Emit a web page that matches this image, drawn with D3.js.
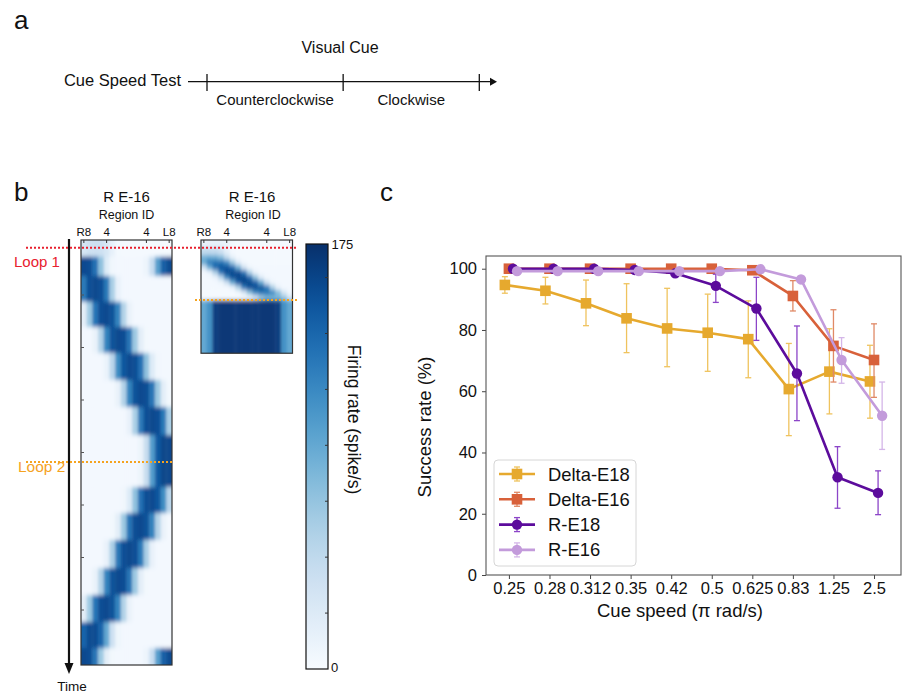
<!DOCTYPE html>
<html>
<head>
<meta charset="utf-8">
<script src="https://cdn.jsdelivr.net/npm/d3@7"></script>
<style>
body { margin: 0; background: #fff; }
svg { font-family: "Liberation Sans", Arial, Helvetica, sans-serif; }
</style>
</head>
<body>
<svg id="fig" width="920" height="693"></svg>
<script>
// ---------- panel a ----------
var cueSegments = ["Counterclockwise", "Clockwise"];

// ---------- panel b ----------
var regionIds = ["R8","R7","R6","R5","R4","R3","R2","R1","L1","L2","L3","L4","L5","L6","L7","L8"];
var regionTickIds = ["R8","R4","L4","L8"];
var regionTickText = ["R8","4","4","L8"];

// firing rate vs distance (regions) from the bump centre
var bumpProfile = [176, 172, 140, 65, 15, 4];
var baseRate = 3;

// left map: bump centre (region index) for each step, time in map rows
var leftStepStart = [0, 6.7, 14.4, 24.7, 34.8, 45.2, 56, 66.8, 78, 98.8, 109.2, 120, 131.2, 142, 152.8, 163.2];
var leftStepCentre = [[2], [0.2, 15.4], [2], [3.9], [6.1], [8.2], [10.1], [12], [14.4], [11.8], [9.9], [8], [6.1], [3.9], [1.5], [0.1, 15.4]];
var leftStepPeak = [40, 172, 172, 172, 172, 172, 172, 172, 176, 172, 172, 172, 172, 172, 172, 172];
var leftEnd = 170;
var leftTimeTicks = [22, 43, 64, 85, 106, 127, 148];
var loopTimes = [3.1, 88.8];
var loopNames = ["Loop 1", "Loop 2"];

// right map: fast sweep, then every region saturates
var rightStepStart = [0, 3, 6, 8, 10, 12, 14, 16, 18, 20, 22];
var rightStepCentre = [2, 1, 1.3, 2.3, 3.5, 5, 6.2, 7.5, 9, 10.5, 12];
var rightStepPeak = [15, 50, 100, 145, 165, 172, 174, 174, 168, 140, 90];
var rightSwitch = 24;
var rightEnd = 45.3;
var rightHoldRate = [100, 118, 180, 184, 184, 184, 184, 184, 184, 184, 184, 184, 184, 180, 118, 100];

var rateMax = 190;
var rateTicks = [25, 50, 75, 100, 125, 150, 175];

// ---------- panel c ----------
var speeds = ["0.25","0.28","0.312","0.35","0.42","0.5","0.625","0.83","1.25","2.5"];
var seriesNames = ["Delta-E18", "Delta-E16", "R-E18", "R-E16"];

var deltaE18   = [94.7, 92.8, 88.7, 83.8, 80.5, 79.1, 77.0, 60.7, 66.4, 63.2];
var deltaE18Lo = [92.0, 88.5, 81.4, 72.6, 68.0, 66.5, 64.4, 45.5, 52.6, 51.2];
var deltaE18Hi = [97.4, 97.2, 96.3, 95.1, 93.6, 91.7, 89.5, 75.6, 80.4, 75.0];

var deltaE16   = [100, 100, 100, 100, 100, 100, 99.5, 91.1, 74.8, 70.2];
var deltaE16Lo = [99.6, 99.6, 99.6, 99.6, 99.6, 99.6, 98.6, 86.2, 63.0, 58.0];
var deltaE16Hi = [100.4, 100.4, 100.4, 100.4, 100.4, 100.4, 100.3, 96.1, 86.6, 82.0];

var rE18   = [100, 100, 100, 99.6, 98.5, 94.4, 87.0, 65.8, 31.9, 26.8];
var rE18Lo = [100, 100, 100, 99.2, 97.5, 89.0, 76.6, 50.4, 21.8, 19.7];
var rE18Hi = [100, 100, 100, 100, 99.5, 98.2, 97.2, 81.3, 41.9, 34.0];

var rE16   = [99.2, 99.2, 99.2, 99.2, 99.2, 99.2, 99.8, 96.5, 70.2, 52.0];
var rE16Lo = [98.8, 98.8, 98.8, 98.8, 98.8, 98.8, 99.5, 95.5, 62.6, 41.0];
var rE16Hi = [99.6, 99.6, 99.6, 99.6, 99.6, 99.6, 100, 97.5, 77.5, 63.0];

var seriesVals = [deltaE18, deltaE16, rE18, rE16];
var seriesLo = [deltaE18Lo, deltaE16Lo, rE18Lo, rE16Lo];
var seriesHi = [deltaE18Hi, deltaE16Hi, rE18Hi, rE16Hi];

// styles
var lineColors = ["#e6a92e", "#d8613a", "#5c0c9c", "#c39bdb"];
var errColors = ["#efc35e", "#e08966", "#8c45c8", "#d4b6e8"];
var markers = ["square", "square", "circle", "circle"];
var xShift = [-0.1, 0, 0.1, 0.2];

var svg = d3.select("#fig");
var blues = d3.scaleSequential(d3.interpolateBlues).domain([0, rateMax]);

function label(x, y, txt, size, anchor, color) {
  return svg.append("text").attr("x", x).attr("y", y)
    .attr("text-anchor", anchor || "start")
    .style("font-size", size + "px")
    .attr("fill", color || "#111")
    .text(txt);
}

// ================= panel a =================
label(14, 29, "a", 26);
label(340, 53, "Visual Cue", 16, "middle");
label(181, 86, "Cue Speed Test", 16.5, "end");

var ta = d3.scaleLinear().domain([0, 2]).range([207, 479.3]);
svg.append("line").attr("x1", 188).attr("x2", 492).attr("y1", 81.7).attr("y2", 81.7)
  .attr("stroke", "#111").attr("stroke-width", 1.3);
svg.append("path").attr("d", "M490,77.7 L497,81.7 L490,85.7 Z").attr("fill", "#111");
svg.selectAll(".atick").data([0, 1, 2]).enter().append("line")
  .attr("x1", d => ta(d)).attr("x2", d => ta(d)).attr("y1", 74).attr("y2", 91)
  .attr("stroke", "#111").attr("stroke-width", 1.3);
cueSegments.forEach(function (s, i) {
  label((ta(i) + ta(i + 1)) / 2, 105, s, 15, "middle");
});

// ================= panel b =================
label(14, 201, "b", 26);

var tScale = d3.scaleLinear().domain([0, leftEnd]).range([240, 665]);
var defs = svg.append("defs");
defs.append("filter").attr("id", "soft").attr("x", "-20%").attr("y", "-20%").attr("width", "140%").attr("height", "140%")
  .append("feGaussianBlur").attr("stdDeviation", "1.5 2.2");

function rateAt(col, centres, peak) {
  var best = baseRate;
  centres.forEach(function (c) {
    var d = Math.abs(col - c);
    var i = Math.floor(d);
    var v = i >= bumpProfile.length - 1 ? bumpProfile[bumpProfile.length - 1]
      : bumpProfile[i] + (bumpProfile[i + 1] - bumpProfile[i]) * (d - i);
    v = v * peak / bumpProfile[0];
    if (v > best) best = v;
  });
  return best;
}

function drawMap(id, x0, x1, tEnd, steps) {
  var xb = d3.scaleBand().domain(regionIds).range([x0, x1]);
  var y0 = tScale(0), y1 = tScale(tEnd);
  defs.append("clipPath").attr("id", "clip" + id).append("rect")
    .attr("x", x0).attr("y", y0).attr("width", x1 - x0).attr("height", y1 - y0);
  var g = svg.append("g").attr("clip-path", "url(#clip" + id + ")")
    .append("g").attr("filter", "url(#soft)");
  var cells = [];
  steps.forEach(function (s, si) {
    regionIds.forEach(function (r, ci) {
      cells.push({ r: r, ci: ci, t0: s.t0, t1: s.t1, v: s.rate(ci), first: si === 0, last: si === steps.length - 1 });
    });
  });
  g.selectAll("rect").data(cells).enter().append("rect")
    .attr("x", d => xb(d.r) - (d.ci === 0 ? 8 : 0))
    .attr("width", d => xb.bandwidth() + (d.ci === 0 || d.ci === 15 ? 8 : 0) + 0.4)
    .attr("y", d => tScale(d.t0) - (d.first ? 8 : 0))
    .attr("height", d => tScale(d.t1) - tScale(d.t0) + (d.first ? 8 : 0) + (d.last ? 8 : 0) + 0.4)
    .attr("fill", d => blues(d.v));
  svg.append("rect").attr("x", x0).attr("y", y0).attr("width", x1 - x0).attr("height", y1 - y0)
    .attr("fill", "none").attr("stroke", "#333").attr("stroke-width", 1.2);
  // region ticks
  regionTickIds.forEach(function (r, i) {
    var cx = xb(r) + xb.bandwidth() / 2;
    svg.append("line").attr("x1", cx).attr("x2", cx).attr("y1", y0).attr("y2", y0 + 3)
      .attr("stroke", "#333").attr("stroke-width", 1);
    label(cx, 235.7, regionTickText[i], 11.5, "middle");
  });
  return xb;
}

// left map
var leftSteps = leftStepStart.map(function (s, i) {
  return {
    t0: s, t1: i < leftStepStart.length - 1 ? leftStepStart[i + 1] : leftEnd,
    rate: function (ci) { return rateAt(ci, leftStepCentre[i], leftStepPeak[i]); }
  };
});
drawMap("L", 81, 172, leftEnd, leftSteps);
leftTimeTicks.forEach(function (t) {
  svg.append("line").attr("x1", 81).attr("x2", 84).attr("y1", tScale(t)).attr("y2", tScale(t))
    .attr("stroke", "#555").attr("stroke-width", 1);
});
label(126.5, 201.5, "R E-16", 15, "middle");
label(126.5, 218.5, "Region ID", 12.5, "middle");

// right map
var rightSteps = rightStepStart.map(function (s, i) {
  return {
    t0: s, t1: i < rightStepStart.length - 1 ? rightStepStart[i + 1] : rightSwitch,
    rate: function (ci) { return rateAt(ci, [rightStepCentre[i]], rightStepPeak[i]); }
  };
});
rightSteps.push({ t0: rightSwitch, t1: rightEnd, rate: function (ci) { return rightHoldRate[ci]; } });
drawMap("R", 201, 292.5, rightEnd, rightSteps);
label(252, 201.5, "R E-16", 15, "middle");
label(253, 218.5, "Region ID", 12.5, "middle");

// time arrow
svg.append("line").attr("x1", 69).attr("x2", 69).attr("y1", 239).attr("y2", 664)
  .attr("stroke", "#111").attr("stroke-width", 2.2);
svg.append("path").attr("d", "M64.5,663 L73.5,663 L69,674 Z").attr("fill", "#111");
label(72, 691, "Time", 13.5, "middle");

// loop markers
var loopColors = ["#e8202e", "#f5a31f"];
svg.append("line").attr("x1", 26).attr("x2", 296).attr("y1", tScale(loopTimes[0])).attr("y2", tScale(loopTimes[0]))
  .attr("stroke", loopColors[0]).attr("stroke-width", 2.2).attr("stroke-dasharray", "2 2");
svg.append("line").attr("x1", 26).attr("x2", 172).attr("y1", tScale(loopTimes[1])).attr("y2", tScale(loopTimes[1]))
  .attr("stroke", loopColors[1]).attr("stroke-width", 2.2).attr("stroke-dasharray", "2 2");
svg.append("line").attr("x1", 195).attr("x2", 299).attr("y1", tScale(rightSwitch)).attr("y2", tScale(rightSwitch))
  .attr("stroke", loopColors[1]).attr("stroke-width", 2.2).attr("stroke-dasharray", "2 2");
label(14, 267, loopNames[0], 15, "start", loopColors[0]);
label(18, 471.5, loopNames[1], 15.5, "start", loopColors[1]);

// colour bar
var cbY = d3.scaleLinear().domain([0, rateMax]).range([669, 244]);
var grad = defs.append("linearGradient").attr("id", "cbgrad")
  .attr("x1", 0).attr("y1", 1).attr("x2", 0).attr("y2", 0);
d3.range(0, 1.0001, 0.05).forEach(function (f) {
  grad.append("stop").attr("offset", f).attr("stop-color", blues(f * rateMax));
});
svg.append("rect").attr("x", 306).attr("y", 244).attr("width", 22).attr("height", 425)
  .attr("fill", "url(#cbgrad)").attr("stroke", "#111").attr("stroke-width", 1.2);
rateTicks.forEach(function (v) {
  svg.append("line").attr("x1", 325).attr("x2", 328).attr("y1", cbY(v)).attr("y2", cbY(v))
    .attr("stroke", "#333").attr("stroke-width", 1);
});
label(331.5, 248.5, "175", 13, "start");
label(331, 672, "0", 13, "start");
svg.append("text").attr("transform", "translate(353,419.5) rotate(90)")
  .attr("text-anchor", "middle").attr("dominant-baseline", "middle")
  .style("font-size", "17.5px").attr("fill", "#111").text("Firing rate  (spike/s)");

// ================= panel c =================
label(380, 201, "c", 26);

var x = d3.scaleLinear().domain([-0.565, 9.665]).range([486, 901]);
var y = d3.scaleLinear().domain([0, 104.15]).range([575, 256]);

var xAxis = svg.append("g").attr("transform", "translate(0,575)")
  .call(d3.axisBottom(x).tickValues(d3.range(speeds.length)).tickFormat(i => speeds[i]).tickSize(4).tickPadding(3));
var yAxis = svg.append("g").attr("transform", "translate(486,0)")
  .call(d3.axisLeft(y).tickValues([0, 20, 40, 60, 80, 100]).tickSize(4).tickPadding(5));
[xAxis, yAxis].forEach(function (a) {
  a.select(".domain").remove();
  a.selectAll("text").style("font-size", "16.5px").attr("fill", "#111")
    .style("font-family", "'Liberation Sans', Arial, Helvetica, sans-serif");
  a.selectAll("line").attr("stroke", "#444");
});
svg.append("rect").attr("x", 486).attr("y", 256).attr("width", 415).attr("height", 319)
  .attr("fill", "none").attr("stroke", "#555").attr("stroke-width", 1.1);

label(680, 617, "Cue speed (\u03c0 rad/s)", 18.5, "middle");
svg.append("text").attr("transform", "translate(426,427) rotate(-90)")
  .attr("text-anchor", "middle").attr("dominant-baseline", "middle")
  .style("font-size", "18.5px").attr("fill", "#111").text("Success rate (%)");

function drawMarker(g, kind, cx, cy, color) {
  if (kind === "square") {
    g.append("rect").attr("x", cx - 5.3).attr("y", cy - 5.3).attr("width", 10.6).attr("height", 10.6).attr("fill", color);
  } else {
    g.append("circle").attr("cx", cx).attr("cy", cy).attr("r", 5.2).attr("fill", color);
  }
}

var line = d3.line();
seriesNames.forEach(function (name, s) {
  var g = svg.append("g");
  var vals = seriesVals[s];
  vals.forEach(function (v, i) {
    var cx = x(i + xShift[s]);
    var lo = y(seriesLo[s][i]), hi = y(seriesHi[s][i]);
    if (Math.abs(lo - hi) < 0.5) return;
    g.append("line").attr("x1", cx).attr("x2", cx).attr("y1", lo).attr("y2", hi)
      .attr("stroke", errColors[s]).attr("stroke-width", 1.3);
    [lo, hi].forEach(function (yy) {
      g.append("line").attr("x1", cx - 3).attr("x2", cx + 3).attr("y1", yy).attr("y2", yy)
        .attr("stroke", errColors[s]).attr("stroke-width", 1.3);
    });
  });
  g.append("path").attr("d", line(vals.map((v, i) => [x(i + xShift[s]), y(v)])))
    .attr("fill", "none").attr("stroke", lineColors[s]).attr("stroke-width", 2.6)
    .attr("stroke-linejoin", "round");
  vals.forEach(function (v, i) {
    drawMarker(g, markers[s], x(i + xShift[s]), y(v), lineColors[s]);
  });
});

// legend
var lg = svg.append("g");
lg.append("rect").attr("x", 494).attr("y", 460).attr("width", 142).attr("height", 106).attr("rx", 4)
  .attr("fill", "#fff").attr("fill-opacity", 0.85).attr("stroke", "#d6d6d6").attr("stroke-width", 1);
seriesNames.forEach(function (name, s) {
  var cy = 474 + s * 25.3;
  lg.append("line").attr("x1", 517).attr("x2", 517).attr("y1", cy - 7).attr("y2", cy + 7)
    .attr("stroke", errColors[s]).attr("stroke-width", 1.3);
  [cy - 7, cy + 7].forEach(function (yy) {
    lg.append("line").attr("x1", 514).attr("x2", 520).attr("y1", yy).attr("y2", yy)
      .attr("stroke", errColors[s]).attr("stroke-width", 1.3);
  });
  lg.append("line").attr("x1", 499).attr("x2", 535).attr("y1", cy).attr("y2", cy)
    .attr("stroke", lineColors[s]).attr("stroke-width", 2.6);
  drawMarker(lg, markers[s], 517, cy, lineColors[s]);
  lg.append("text").attr("x", 548).attr("y", cy + 6.5).style("font-size", "18.4px").attr("fill", "#111").text(name);
});
</script>
</body>
</html>
